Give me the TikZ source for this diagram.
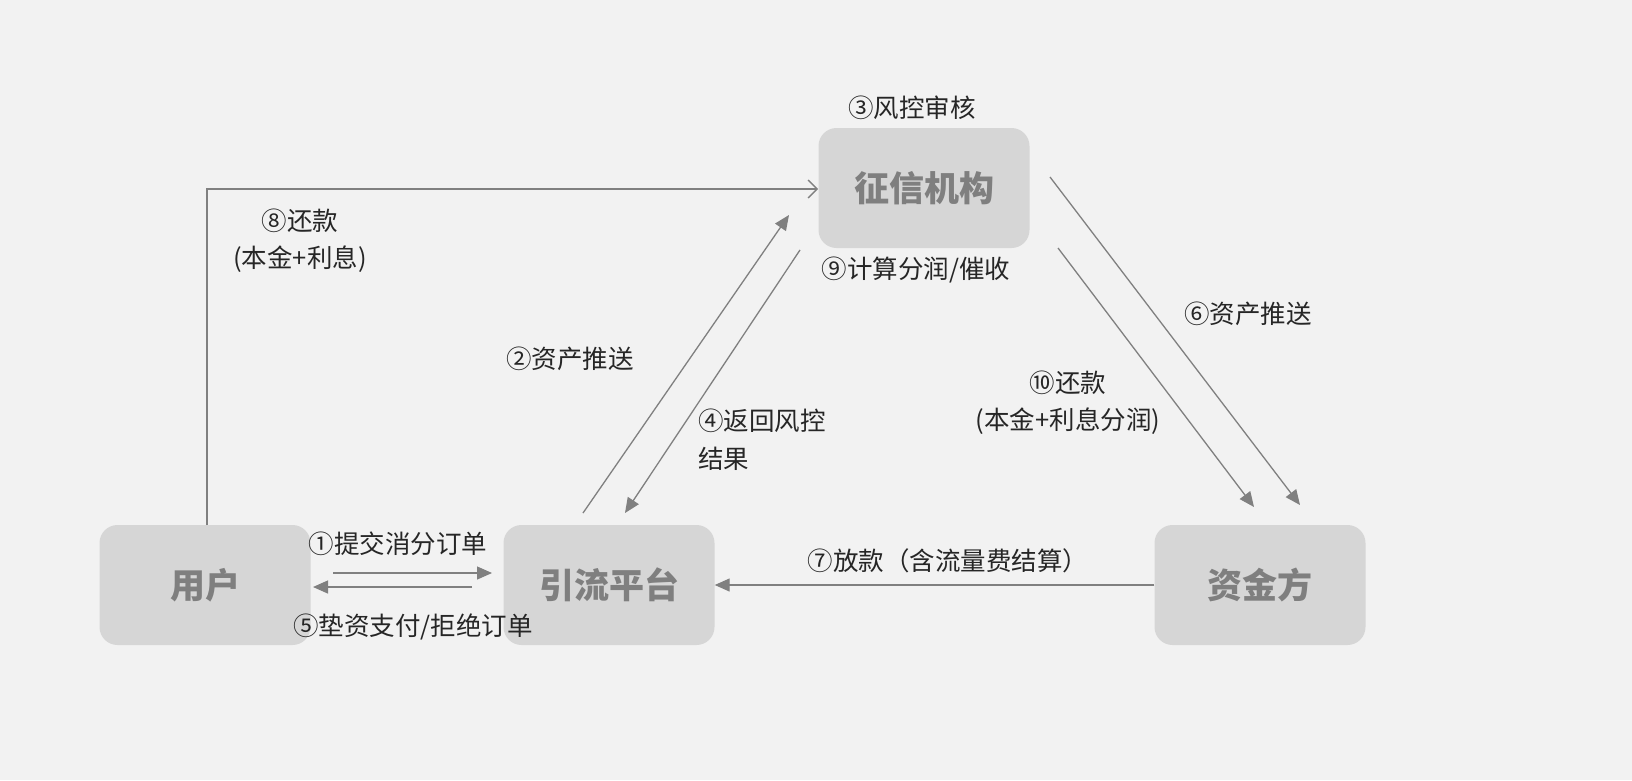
\documentclass[tikz,border=0pt]{standalone}
\usepackage{fontspec}
\setmainfont{Noto Sans CJK SC}
\usetikzlibrary{arrows.meta}
\definecolor{bg}{HTML}{F2F2F2}
\definecolor{boxfill}{HTML}{D6D6D6}
\definecolor{boxtext}{HTML}{7F7F7F}
\definecolor{linegray}{HTML}{808080}
\tikzset{
  party/.style={rectangle,rounded corners=18pt,fill=boxfill,minimum width=211pt,minimum height=120pt,
    text=boxtext,font=\fontsize{35}{40}\selectfont\bfseries},
  lbl/.style={inner sep=0pt,text=black!85,font=\fontsize{25.5}{31}\selectfont},
  flow/.style={draw=linegray,line width=1.3pt,-{Triangle[length=15pt,width=13pt]}}
}
\begin{document}
\begin{tikzpicture}[x=1pt,y=-1pt]
  \fill[bg] (0,0) rectangle (1632,780);
  \useasboundingbox (0,0) rectangle (1632,780);

  % parties
  \node[party] (user) at (205,585) {用户};
  \node[party] (plat) at (609,585) {引流平台};
  \node[party] (fund) at (1260,585) {资金方};
  \node[party] (cred) at (924,188) {征信机构};

  % connector ends
  \coordinate (a1s) at (333,573); \coordinate (a1e) at (492,573);
  \coordinate (a5s) at (472,587); \coordinate (a5e) at (313,587);
  \coordinate (a8s) at (207,525); \coordinate (a8e) at (818,189);
  \coordinate (a2s) at (583,513); \coordinate (a2e) at (789,215);
  \coordinate (a4s) at (800,250); \coordinate (a4e) at (625,513);
  \coordinate (a6s) at (1050,177); \coordinate (a6e) at (1300,505);
  \coordinate (a10s) at (1058,248); \coordinate (a10e) at (1254,507);

  \draw[flow] (a1s) -- (a1e);
  \draw[flow] (a5s) -- (a5e);
  \draw[flow] (fund.west) -- (plat.east);
  \draw[flow] (a2s) -- (a2e);
  \draw[flow] (a4s) -- (a4e);
  \draw[flow] (a6s) -- (a6e);
  \draw[flow] (a10s) -- (a10e);
  \draw[draw=linegray,line width=1.3pt,-{Straight Barb[length=9pt,width=18pt]}] (a8s) |- (a8e);

  % labels
  \node[lbl] (t3) at (912,108) {③风控审核};
  \node[lbl] (t8a) at (300,221) {⑧还款};
  \node[lbl] (t8b) at (300,259) {(本金+利息)};
  \node[lbl] (t9) at (916,270) {⑨计算分润/催收};
  \node[lbl] (t6) at (1248,314) {⑥资产推送};
  \node[lbl] (t2) at (570,359) {②资产推送};
  \node[lbl] (t10a) at (1068,383) {⑩还款};
  \node[lbl] (t10b) at (1068,421) {(本金+利息分润)};
  \node[lbl,anchor=west] (t4a) at (698,421) {④返回风控};
  \node[lbl,anchor=west] (t4b) at (698,459) {结果};
  \node[lbl] (t1) at (398,544) {①提交消分订单};
  \node[lbl] (t5) at (413,627) {⑤垫资支付/拒绝订单};
  \node[lbl] (t7) at (948,561) {⑦放款（含流量费结算）};
\end{tikzpicture}
\end{document}
